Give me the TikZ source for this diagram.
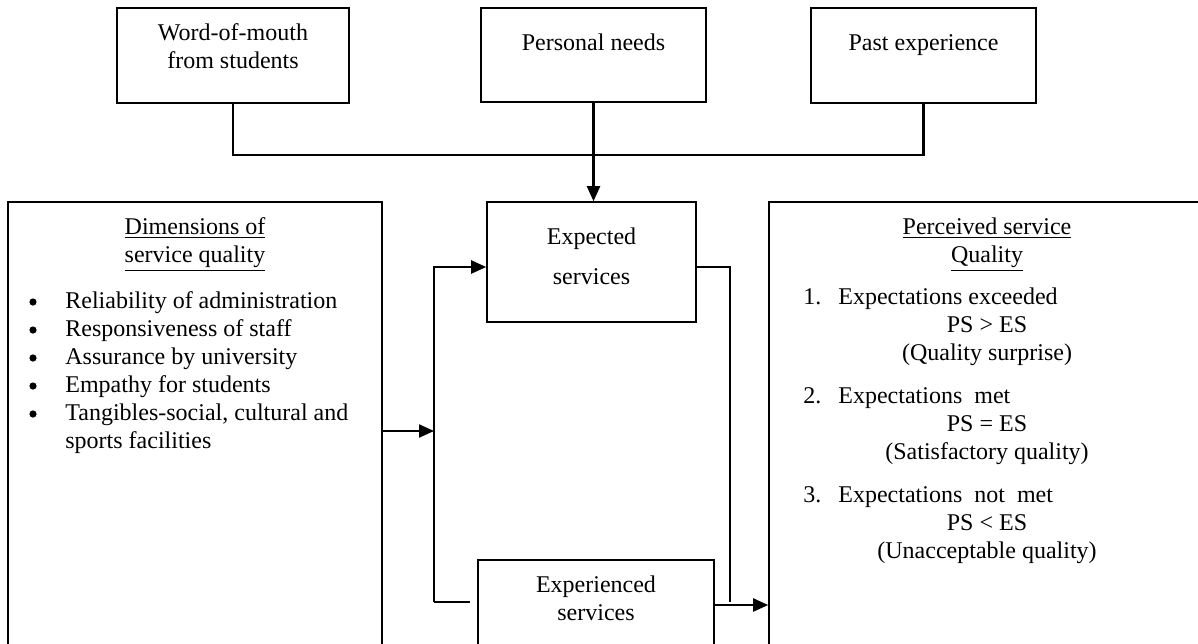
\documentclass[tikz,border=0pt]{standalone}
\usepackage{fontspec}
\setmainfont{Liberation Serif}
\usepackage{tikz}
\usetikzlibrary{arrows.meta,positioning}

\newcommand{\stack}[1]{\begin{tabular}[t]{@{}c@{}}#1\end{tabular}}

\tikzset{
    blockbox/.style={draw, line width=0.8pt, inner sep=0pt},
    txt/.style={inner sep=0pt, anchor=base},
    link/.style={line width=1.1pt},
    arrowlink/.style={link, -{Triangle[length=7.5pt,width=6.5pt]}}
}

\begin{document}
\begin{tikzpicture}[x=0.5pt, y=-0.5pt, font=\fontsize{12}{14}\selectfont]

    \useasboundingbox (0,0) rectangle (1198,643);
    \clip (0,0) rectangle (1198,643);

    % top row
    \node[blockbox, minimum width=116pt, minimum height=47.5pt] (word) at (233,55.5) {};
    \node[blockbox, minimum width=112.5pt, minimum height=47pt] (needs) at (593.5,55) {};
    \node[blockbox, minimum width=112.5pt, minimum height=47.5pt] (past) at (923.5,55.5) {};
    \node[txt] (wordtxt) at (233,40) {\stack{Word-of-mouth\\from students}};
    \node[txt] (needstxt) at (593.5,50) {Personal needs};
    \node[txt] (pasttxt) at (923.5,50) {Past experience};

    % middle column
    \node[blockbox, minimum width=104.5pt, minimum height=60pt] (expected) at (591.5,262) {};
    \node[blockbox, minimum width=118pt, minimum height=45pt] (experienced) at (596,605) {};
    \node[txt] (expectedtxt) at (591.5,244) {\stack{Expected\\[6pt]services}};
    \node[txt] (experiencedtxt) at (596,592) {\stack{Experienced\\services}};

    % side boxes
    \node[blockbox, minimum width=187pt, minimum height=229pt] (dims) at (195,431) {};
    \node[blockbox, minimum width=221pt, minimum height=229pt] (perceived) at (990,431) {};

    \node[txt] (dimstitle) at (195,234) {\stack{\underline{Dimensions of}\\\underline{service quality}}};
    \node[txt, anchor=base west] (dimslist) at (65,308) {%
        \begin{tabular}[t]{@{}l@{}}
        Reliability of administration\\
        Responsiveness of staff\\
        Assurance by university\\
        Empathy for students\\
        Tangibles-social, cultural and\\
        sports facilities
        \end{tabular}};
    \foreach \k in {0,...,4}
        \fill (33,302+28*\k) circle (1.8pt);

    \node[txt] (perceivedtitle) at (987,234) {\stack{\underline{Perceived service}\\\underline{Quality}}};
    \foreach \n/\what/\rel/\note [count=\i from 0] in
        {1/Expectations exceeded/PS > ES/Quality surprise,
         2/Expectations~ met/PS = ES/Satisfactory quality,
         3/Expectations~ not~ met/PS < ES/Unacceptable quality}{%
        \node[txt, anchor=base west] (num\n) at (803,304+99*\i) {\n.};
        \node[txt, anchor=base west] (case\n) at (838,304+99*\i) {\what};
        \node[txt] (rel\n) at (987,332+99*\i) {\rel};
        \node[txt] (note\n) at (987,360+99*\i) {(\note)};
    }

    % connectors
    \coordinate (topL) at (434,267);
    \coordinate (botL) at (434,602);
    \coordinate (topR) at (730,267);
    \coordinate (botR) at (730,602);

    \draw[link] (word.south) -- ++(0,51) -| (past.south);
    \draw[arrowlink] (needs.south) -- (needs.south |- expected.north);
    \draw[arrowlink] (dims.east) -- (dims.east -| topL);
    \draw[arrowlink] (botL) -- (topL) -- (expected.west |- topL);
    \draw[link, shorten >=3.5pt] (botL) -- (experienced.west |- botL);
    \draw[link] (expected.east |- topR) -- (topR) -- (botR);
    \draw[arrowlink] (experienced.east) -- (perceived.west |- experienced.east);

\end{tikzpicture}
\end{document}
